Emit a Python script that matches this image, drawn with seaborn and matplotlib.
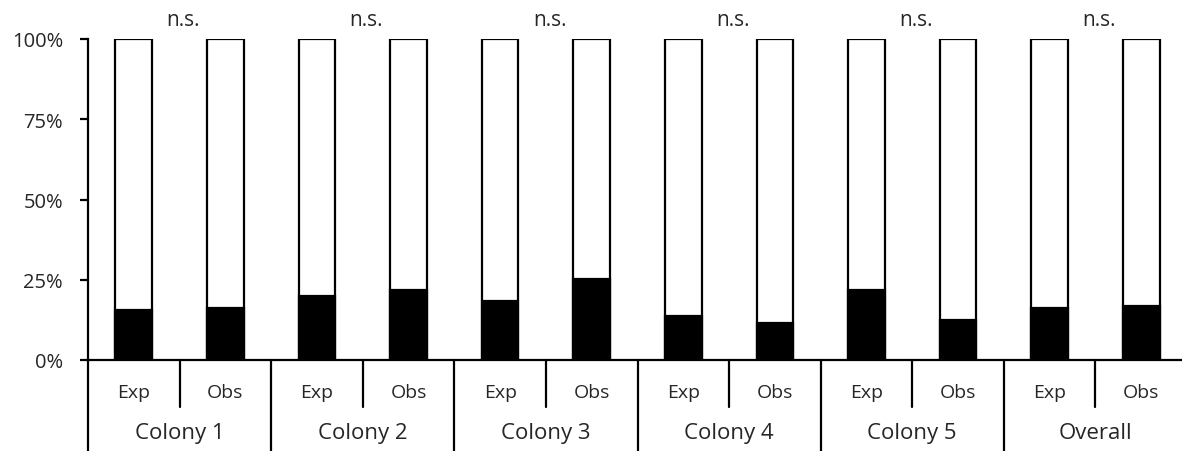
import matplotlib
matplotlib.use("Agg")
import matplotlib.pyplot as plt
import seaborn as sns
import pandas as pd

groups = ["Colony 1", "Colony 2", "Colony 3", "Colony 4", "Colony 5", "Overall"]
kinds = ["Exp", "Obs"]
exp_values = [15.6, 19.8, 18.5, 13.7, 21.9, 16.3]
obs_values = [16.2, 21.7, 25.2, 11.5, 12.6, 16.9]
sig_labels = ["n.s."] * 6
yticks = [0, 25, 50, 75, 100]
ytick_labels = ["0%", "25%", "50%", "75%", "100%"]

rows = []
for g, e, o in zip(groups, exp_values, obs_values):
    rows.append({"pos": f"{g} Exp", "group": g, "kind": "Exp", "value": e, "total": 100})
    rows.append({"pos": f"{g} Obs", "group": g, "kind": "Obs", "value": o, "total": 100})
df = pd.DataFrame(rows)
order = list(df["pos"])

sns.set_theme(style="white")
plt.rcParams["font.family"] = ["Open Sans", "DejaVu Sans"]

W, H = 1182, 452
fig = plt.figure(figsize=(W / 100, H / 100), dpi=100)
left_px, right_px, top_px, bot_px = 88, 1187, 40, 361
ax = fig.add_axes([left_px / W, (H - bot_px) / H, (right_px - left_px) / W, (bot_px - top_px) / H])

lw = 1.6
sns.barplot(data=df, x="pos", y="total", order=order, color="white", edgecolor="black",
            linewidth=lw, width=0.4, ax=ax, errorbar=None, saturation=1)
sns.barplot(data=df, x="pos", y="value", order=order, color="black", edgecolor="black",
            linewidth=lw, width=0.4, ax=ax, errorbar=None, saturation=1)

ax.set_xlim(-0.5, len(order) - 0.5)
ax.set_ylim(0, 100)
ax.set_xlabel("")
ax.set_ylabel("")
ax.set_xticks([])
ax.set_yticks(yticks)
ax.set_yticklabels(ytick_labels, fontsize=14.5)
ax.tick_params(axis="y", length=6, width=lw, color="black", pad=12, left=True)
for s in ["top", "right"]:
    ax.spines[s].set_visible(False)
for s in ["left", "bottom"]:
    ax.spines[s].set_color("black")
    ax.spines[s].set_linewidth(lw)

def ypx(p):
    return (bot_px - p) / (bot_px - top_px) * 100

y_bottom = ypx(H + 2)
y_short = ypx(408)
# group separators (full height below axis)
for i in range(len(groups) + 1):
    x = -0.5 + 2 * i
    ax.plot([x, x], [0, y_bottom], color="black", lw=lw, clip_on=False)
# short separators between Exp and Obs
for i in range(len(groups)):
    x = 0.5 + 2 * i
    ax.plot([x, x], [0, y_short], color="black", lw=lw, clip_on=False)

for i, pos in enumerate(order):
    ax.text(i, ypx(393), df["kind"].iloc[i], ha="center", va="center", fontsize=14, clip_on=False)
for j, g in enumerate(groups):
    ax.text(2 * j + 0.5, ypx(434), g, ha="center", va="center", fontsize=16, clip_on=False)
    ax.text(2 * j + 0.5 + 0.04, ypx(21), sig_labels[j], ha="center", va="center", fontsize=15, clip_on=False)

fig.savefig("out.png", dpi=100)
